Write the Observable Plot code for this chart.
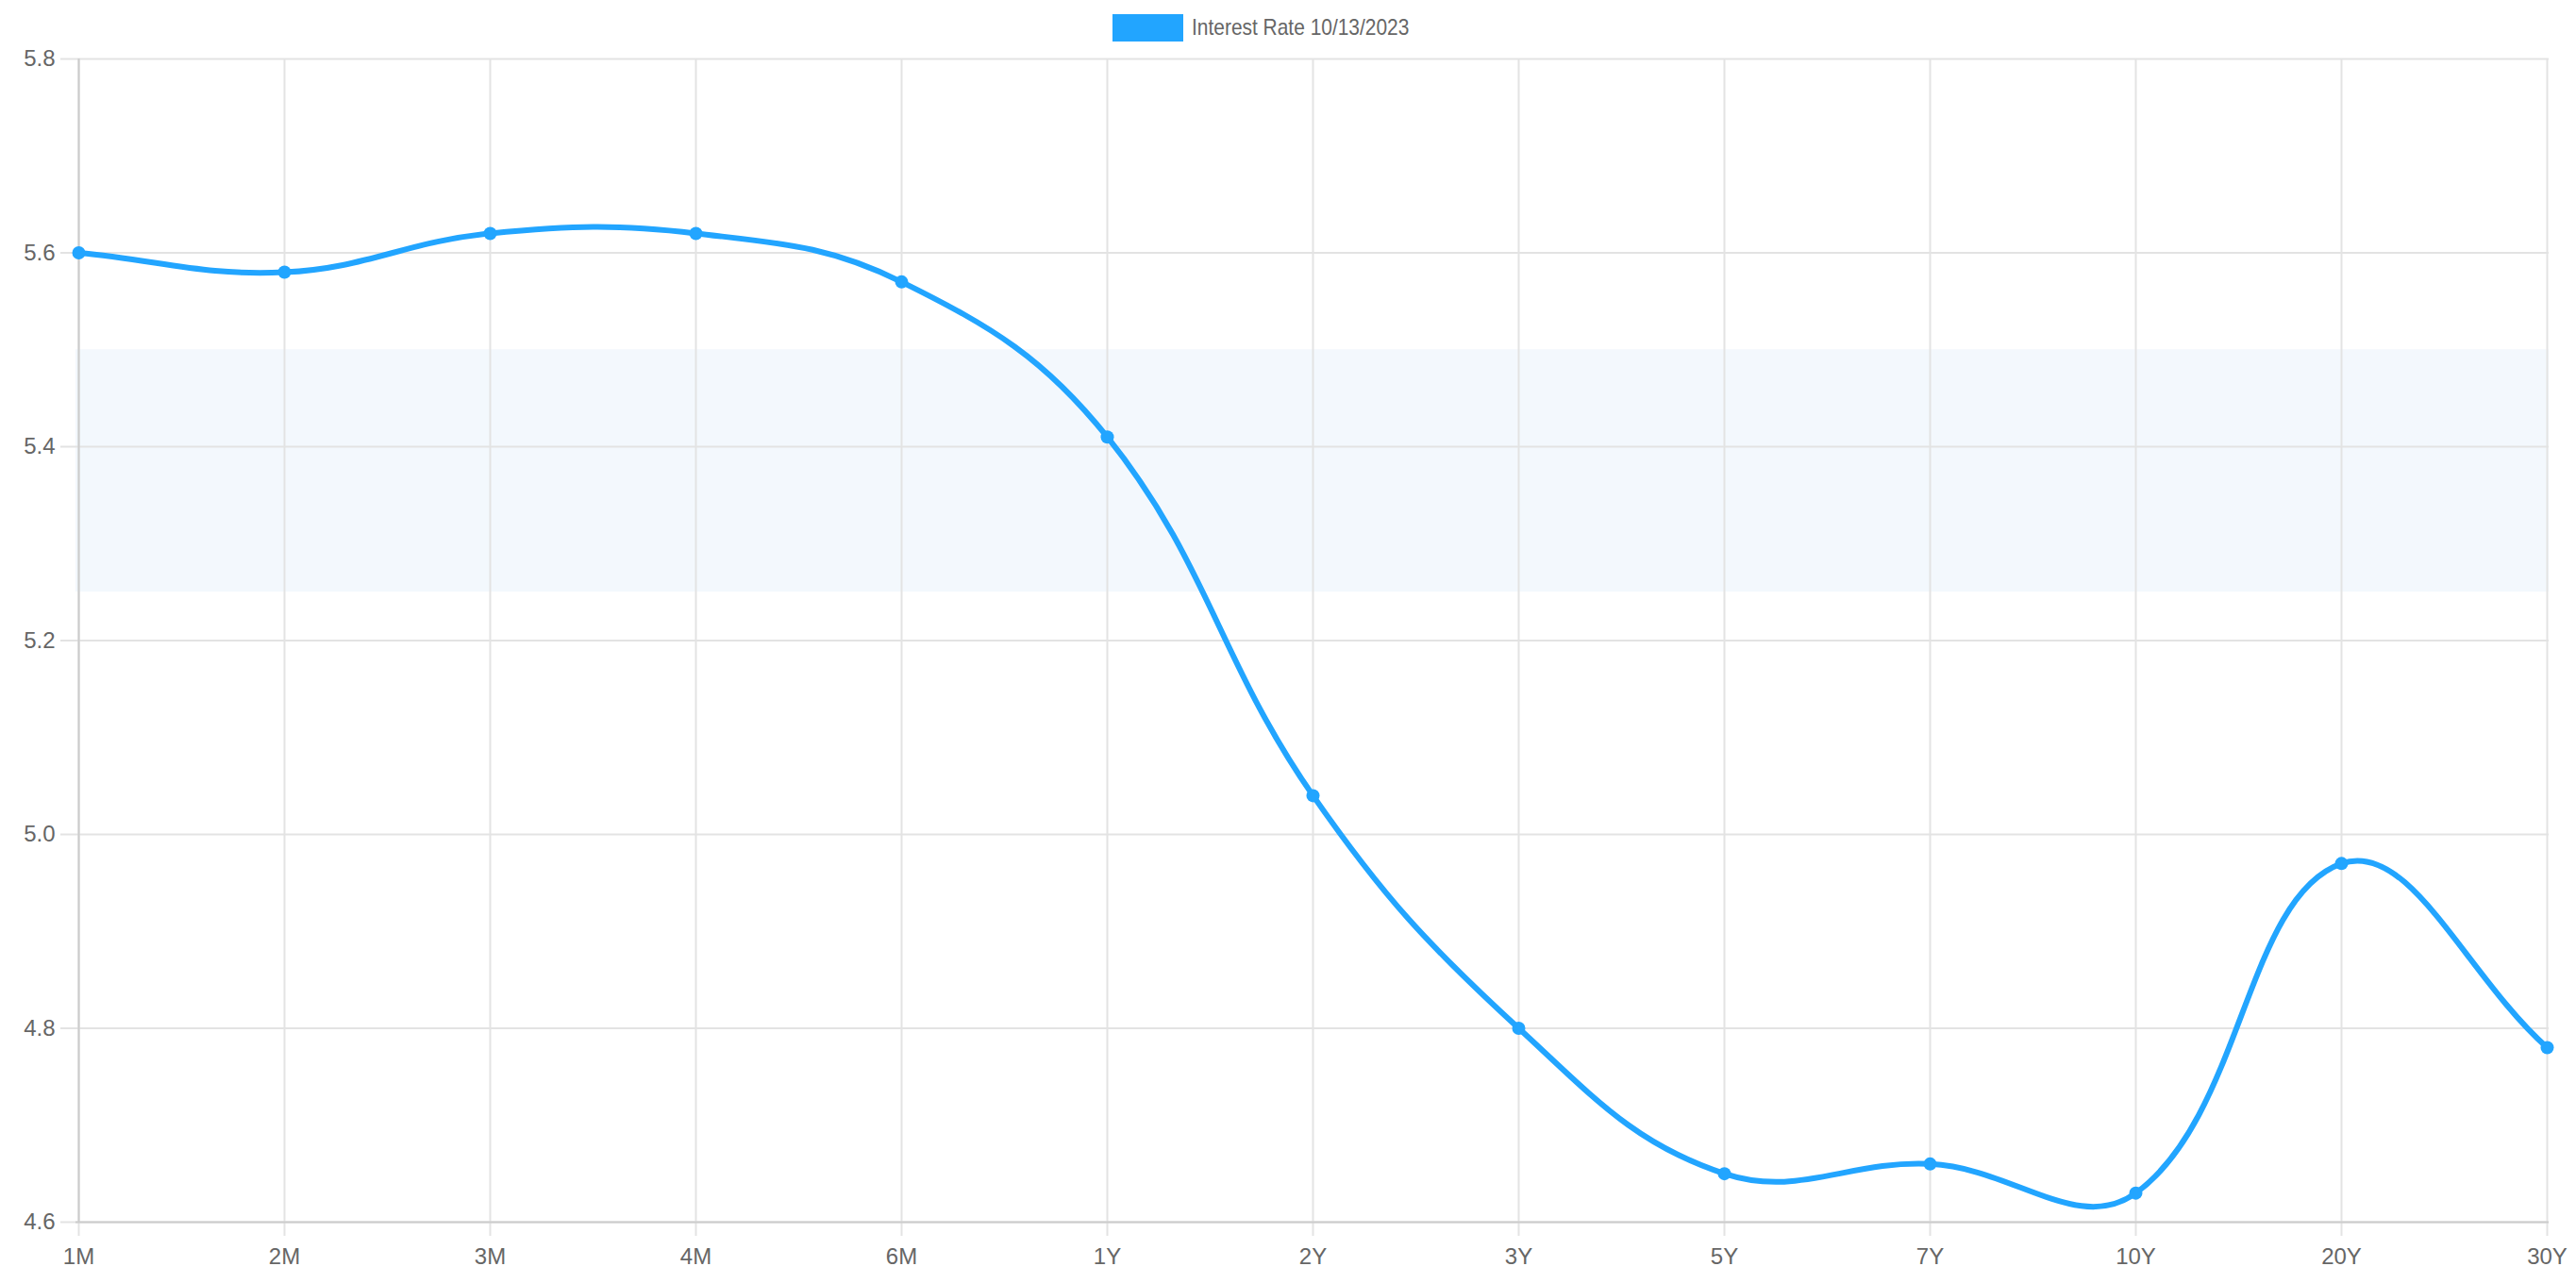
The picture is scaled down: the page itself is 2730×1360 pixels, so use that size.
<!DOCTYPE html>
<html>
<head>
<meta charset="utf-8">
<script src="https://cdn.jsdelivr.net/npm/d3@7"></script>
<script src="https://cdn.jsdelivr.net/npm/@observablehq/plot@0.6"></script>
<style>
  html, body { margin: 0; padding: 0; background: #fff; }
  body { width: 2730px; height: 1360px; overflow: hidden; font-family: "Liberation Sans", Arial, Helvetica, sans-serif; }
  #legend { position: relative; height: 46px; width: 2730px; }
  #legend .box { position: absolute; left: 1179px; top: 15px; width: 75px; height: 29px; background: #22a5ff; }
  #legend .label { position: absolute; left: 1263px; top: 15px; font-size: 24px; line-height: 28px; color: #666; white-space: nowrap; transform: scaleX(0.872); transform-origin: left center; }
</style>
</head>
<body>
<div id="legend"><div class="box"></div><div class="label">Interest Rate 10/13/2023</div></div>
<div id="chart"></div>
<script>
const seriesName = "Interest Rate 10/13/2023";
const maturities = ["1M", "2M", "3M", "4M", "6M", "1Y", "2Y", "3Y", "5Y", "7Y", "10Y", "20Y", "30Y"];
const rates = [5.60, 5.58, 5.62, 5.62, 5.57, 5.41, 5.04, 4.80, 4.65, 4.66, 4.63, 4.97, 4.78];
const yTicks = [4.6, 4.8, 5.0, 5.2, 5.4, 5.6, 5.8];
const bandLow = 5.25;
const bandHigh = 5.5;

const data = maturities.map((m, i) => ({maturity: m, rate: rates[i]}));
const lineColor = "#22a5ff";
const gridColor = "#e3e3e3";
const axisColor = "#cccccc";

// Spline curve with distance-weighted control points (tension 0.4)
function splineCurve(context) {
  const t = 0.4;
  let pts = [];
  return {
    areaStart() {}, areaEnd() {},
    lineStart() { pts = []; },
    point(x, y) { pts.push([+x, +y]); },
    lineEnd() {
      const n = pts.length;
      if (!n) return;
      const ctrl = pts.map((cur, i) => {
        const prev = i > 0 ? pts[i - 1] : cur;
        const next = i < n - 1 ? pts[i + 1] : cur;
        const d01 = Math.hypot(cur[0] - prev[0], cur[1] - prev[1]);
        const d12 = Math.hypot(next[0] - cur[0], next[1] - cur[1]);
        let s01 = d01 / (d01 + d12), s12 = d12 / (d01 + d12);
        if (!isFinite(s01)) s01 = 0;
        if (!isFinite(s12)) s12 = 0;
        const fa = t * s01, fb = t * s12;
        return {
          inX: cur[0] - fa * (next[0] - prev[0]), inY: cur[1] - fa * (next[1] - prev[1]),
          outX: cur[0] + fb * (next[0] - prev[0]), outY: cur[1] + fb * (next[1] - prev[1])
        };
      });
      context.moveTo(pts[0][0], pts[0][1]);
      for (let i = 1; i < n; i++) {
        context.bezierCurveTo(ctrl[i - 1].outX, ctrl[i - 1].outY, ctrl[i].inX, ctrl[i].inY, pts[i][0], pts[i][1]);
      }
    }
  };
}

const chart = Plot.plot({
  width: 2730,
  height: 1314,
  marginTop: 16,
  marginBottom: 65,
  marginLeft: 80,
  marginRight: 29,
  style: {fontFamily: "'Liberation Sans', Arial, Helvetica, sans-serif", fontSize: "24px", color: "#666", background: "#fff", overflow: "visible"},
  x: {type: "point", domain: maturities, padding: 0, label: null},
  y: {domain: [yTicks[0], yTicks[yTicks.length - 1]], ticks: yTicks, label: null},
  marks: [
    Plot.rect([{lo: bandLow, hi: bandHigh}], {y1: "lo", y2: "hi", fill: "#f3f8fd"}),
    Plot.gridX(maturities, {stroke: gridColor, strokeOpacity: 1, strokeWidth: 2}),
    Plot.gridY(yTicks, {stroke: gridColor, strokeOpacity: 1, strokeWidth: 2}),
    Plot.axisY(yTicks, {tickSize: 16, tickPadding: 6, stroke: gridColor, strokeWidth: 2, tickFormat: d3.format(".1f"), fill: "#666", fontSize: 24}),
    Plot.axisX(maturities, {tickSize: 15, tickPadding: 12, stroke: gridColor, strokeWidth: 2, fill: "#666", fontSize: 24}),
    Plot.ruleX([maturities[0]], {stroke: axisColor, strokeWidth: 2}),
    Plot.ruleY([yTicks[0]], {stroke: axisColor, strokeWidth: 2}),
    Plot.line(data, {x: "maturity", y: "rate", stroke: lineColor, strokeWidth: 6, curve: splineCurve}),
    Plot.dot(data, {x: "maturity", y: "rate", fill: lineColor, r: 7, stroke: null})
  ]
});
document.getElementById("chart").appendChild(chart);
</script>
</body>
</html>
